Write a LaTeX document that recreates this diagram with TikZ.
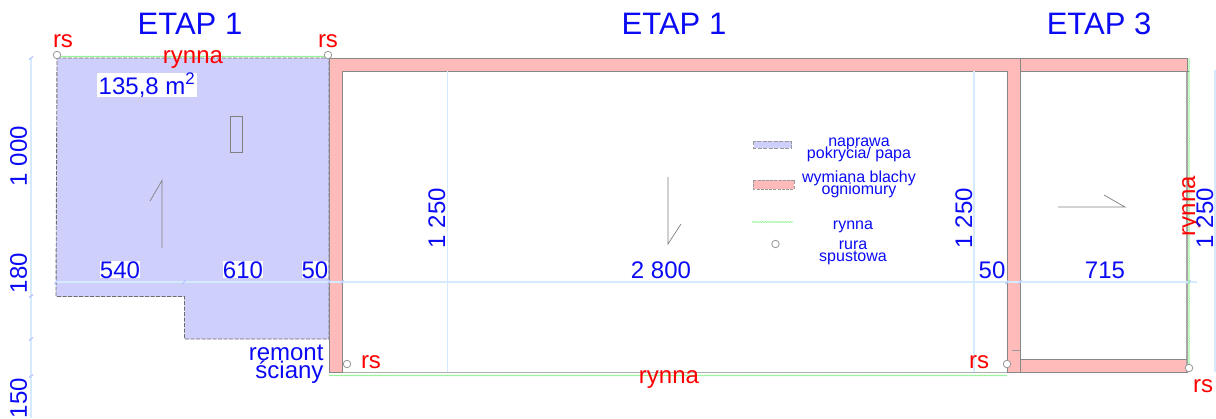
\documentclass[tikz,border=0pt]{standalone}
\usepackage{fontspec}
\setmainfont{Liberation Sans}
\usetikzlibrary{decorations.pathmorphing}
\definecolor{roofblue}{RGB}{207,207,252}
\definecolor{flashred}{RGB}{255,186,186}
\definecolor{dimblue}{RGB}{214,234,255}
\definecolor{gutter}{RGB}{135,240,135}
\definecolor{txtblue}{RGB}{10,10,245}
\definecolor{outline}{RGB}{135,135,135}
\tikzset{
  x=1pt,y=-1pt,
  lab/.style={inner sep=0pt,outer sep=0pt,anchor=base,font=\fontsize{#1}{#1}\selectfont},
  etap/.style={lab=31,text=txtblue},
  dimlab/.style={lab=24,text=txtblue},
  dimlabw/.style={lab=24,text=txtblue,fill=white},
  redlab/.style={lab=24,text=red},
  leglab/.style={lab=16,text=txtblue},
  roof/.style={fill=roofblue,draw=outline!80!black,dashed,dash pattern=on 4pt off 1.5pt,line width=.9pt},
  flash/.style={fill=flashred,draw=none},
  wall/.style={draw=outline,line width=.8pt},
  dimline/.style={draw=dimblue,line width=1.2pt},
  rynnaline/.style={draw=gutter,line width=.6pt,decorate,decoration={snake,amplitude=.5pt,segment length=2.5pt}},
  rurka/.style={circle,draw=gray!80,fill=white,line width=.8pt,minimum size=7.5pt,inner sep=0pt},
  slope/.style={draw=gray,line width=.7pt},
}
\begin{document}
\begin{tikzpicture}
\useasboundingbox (0,0) rectangle (1216,418);
\clip (0,0) rectangle (1216,418);
% roof area
\path[roof] (57,58) -- (329,58) -- (329,339) -- (184.5,339) -- (184.5,296.5) -- (56,296.5) -- cycle;
% flashing
\path[flash] (329,58) rectangle (1187,71);
\path[flash] (329,58) rectangle (342,372);
\path[flash] (1007,58) rectangle (1020,372);
\path[flash] (1020,359.5) rectangle (1187,372);
% outlines
\draw[wall] (329,58) -- (1187,58) -- (1187,372) -- (342,372);
\draw[wall,draw=gray!60,line width=1.4pt] (342,372.5) -- (1007,372.5);
\draw[wall,draw=gray!70,line width=1.4pt] (1187,71) -- (1187,372);
\draw[wall] (329,58) -- (329,372) -- (342,372) -- (342,71) -- (1007,71) -- (1007,372) -- (1187,372);
\draw[wall] (1020,58) -- (1020,372);
\draw[wall] (1020,71) -- (1190,71);
\draw[wall] (1020,359.5) -- (1187,359.5);
\draw[wall,draw=gray!80] (1012,350) -- (1020,350);
% skylight and slope marks
\draw[slope] (230.5,116) rectangle (242.5,152);
\draw[slope] (162,248) -- (162,180.5) -- (150,201);
\draw[slope] (668,177) -- (668,244) -- (681,224);
\draw[slope] (1058,207) -- (1125,207) -- (1104,195);
% dimension lines
\draw[dimline] (31,58) -- (31,418);
\draw[dimline] (55,282) -- (1197,282);
\draw[dimline] (447.5,71) -- (447.5,372);
\draw[dimline] (974,71) -- (974,372);
\draw[dimline] (1215,70) -- (1215,372);
\foreach \py in {58,296,339,376} \draw[dimline,draw=dimblue!85!blue] (29,\py+1.5) -- (33,\py-1.5);
\foreach \px in {56,184,329,342,1007,1020,1189} \draw[dimline,draw=dimblue!85!blue] (\px-1.5,284) -- (\px+1.5,280);
% gutters
\draw[rynnaline] (57,56.5) -- (329,56.5);
\draw[rynnaline] (329,375.5) -- (1007,375.5);
\draw[rynnaline] (1189,58) -- (1189,372);
% downpipes
\node[rurka] (rs1) at (57,55) {};
\node[rurka] (rs2) at (328,55) {};
\node[rurka] (rs3) at (347,364) {};
\node[rurka] (rs4) at (1007,364) {};
\node[rurka] (rs5) at (1189,368) {};
% titles
\node[etap] (t1) at (190,34) {ETAP 1};
\node[etap] (t2) at (674,34) {ETAP 1};
\node[etap] (t3) at (1099,34) {ETAP 3};
% red labels
\node[redlab] (l1) at (63,47) {rs};
\node[redlab] (l2) at (328,47) {rs};
\node[redlab] (l3) at (371,368) {rs};
\node[redlab] (l4) at (979,368) {rs};
\node[redlab] (l5) at (1203,392) {rs};
\node[redlab] (r1) at (193,63) {rynna};
\node[redlab] (r2) at (669,383) {rynna};
\node[redlab,rotate=90] (r3) at (1195,206) {rynna};
% dimensions
\node[dimlabw] (d1) at (120,278) {540};
\node[dimlabw] (d2) at (243,278) {610};
\node[dimlabw] (d3) at (315,278) {50};
\node[dimlab] (d4) at (661,278) {2 800};
\node[dimlab] (d5) at (992,278) {50};
\node[dimlab] (d6) at (1105,278) {715};
\node[dimlab,rotate=90] (v1) at (27,156) {1 000};
\node[dimlab,rotate=90] (v2) at (27,273) {180};
\node[dimlab,rotate=90] (v3) at (27,398) {150};
\node[dimlab,rotate=90] (v4) at (445,218) {1 250};
\node[dimlab,rotate=90] (v5) at (972,218) {1 250};
\node[dimlab,rotate=90] (v6) at (1213,218) {1 250};
\node[dimlabw,inner xsep=2pt] (area) at (147,94) {135,8 m\textsuperscript{2}};
\node[lab=24,text=txtblue,anchor=base east] (rem1) at (323.5,360) {remont};
\node[lab=24,text=txtblue,anchor=base east] (rem2) at (323.5,378) {ściany};
% legend
\path[roof,draw=gray!80] (753.5,141) rectangle (791.5,148);
\path[flash,draw=gray!80,dashed,dash pattern=on 3pt off 1.2pt,line width=.8pt] (753,180) rectangle (794,189);
\draw[rynnaline] (752,222) -- (793,222);
\node[rurka] (lr) at (775.5,244) {};
\node[leglab] (g1) at (859,146) {naprawa};
\node[leglab] (g2) at (859,158) {pokrycia/ papa};
\node[leglab] (g3) at (859,182) {wymiana blachy};
\node[leglab] (g4) at (859,194) {ogniomury};
\node[leglab] (g5) at (853,229) {rynna};
\node[leglab] (g6) at (853,249) {rura};
\node[leglab] (g7) at (853,261) {spustowa};
\end{tikzpicture}
\end{document}
